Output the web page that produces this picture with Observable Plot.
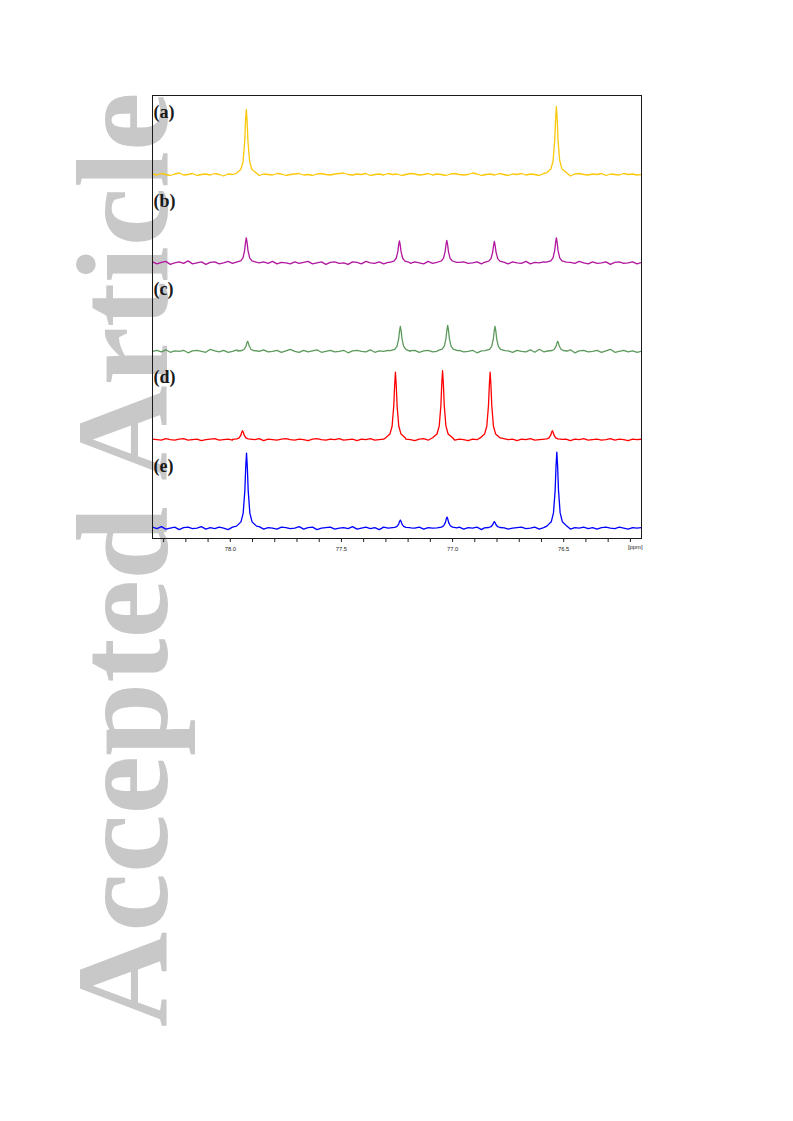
<!DOCTYPE html>
<html>
<head>
<meta charset="utf-8">
<script src="https://cdn.jsdelivr.net/npm/d3@7"></script>
<script src="https://cdn.jsdelivr.net/npm/@observablehq/plot@0.6"></script>
<style>
  body { margin: 0; background: white; }
  #wm { position: absolute; left: 0; top: 0; z-index: 0; }
  #chart { position: absolute; left: 0; top: 0; z-index: 1; }
</style>
</head>
<body>
<div id="wm">
  <svg width="793" height="1121" xmlns="http://www.w3.org/2000/svg">
    <text transform="translate(167,1027) rotate(-90)" font-family="Liberation Serif, Times New Roman, serif" font-weight="bold" font-size="132" fill="#c8c8c8">Accepted Article</text>
  </svg>
</div>
<div id="chart"></div>
<script>
// ---- data ----
const traceNames = ["(a)", "(b)", "(c)", "(d)", "(e)"];
const traceColors = ["#fcc80a", "#b0179e", "#5c9a5c", "#ff0000", "#0000ff"];
const majorTicks = [78.0, 77.5, 77.0, 76.5];
const minorTicks = [78.3, 78.2, 78.1, 77.9, 77.8, 77.7, 77.6, 77.4, 77.3, 77.2, 77.1, 76.9, 76.8, 76.7, 76.6, 76.4, 76.3, 76.2];
const axisUnit = "[ppm]";

// baseline noise, sampled every 0.02 ppm from 78.35 ppm downwards
const aNoise = [0.5,-0.5,1,0,-1,0.5,1.5,-0.5,0,1, -1,0,0.5,-0.5,1,0,-1.5,0.5,0,1, -0.5,0.5,1.5,0,-1,0.5,0,-0.5,1,0.5, -1,0,0.5,1,-0.5,0,-1,0.5,1,0, -0.5,0.5,1,1.5,0,-0.5,0.5,0,1,-1, 0,0.5,-0.5,1,0,0.5,-1,0,1,0.5, -0.5,0,1,-0.5,0.5,0,-1,0.5,1,0, -0.5,0,1.5,0.5,-1,0,0.5,-0.5,1,0, -1,0.5,0,1,-0.5,0.5,0,-1,1,0, 0.5,-0.5,1,0,-1.5,0.5,1,0,-0.5,0.5, 0,1,-1,0.5,0,-0.5,1,0,0.5,-0.5, 0];
const bNoise = [1,-1,0.5,1.5,-1.5,0,1,-0.5,2,-1, 0,1,-1.5,0.5,1,-1,0,1.5,-0.5,0, -1,1,0.5,-1.5,0,1,-0.5,1.5,-1,0.5, 0,-1,1,-0.5,0.5,1.5,-1,0,1,-1.5, 0.5,1,-0.5,0,-1.5,1,0.5,-1,1.5,0, -0.5,1,-1,0.5,0,-2,1,0.5,-0.5,1, 0,-1,1.5,-0.5,0.5,-1,1,0,-1.5,0.5, 1,-0.5,0,1,-1,0.5,1.5,-1,0,0.5, -1,1,0,-0.5,1.5,-1,0.5,0,1,-1.5, 0.5,0,1,-1,0.5,-0.5,1.5,0,-1,1, -0.5,0,1,-1.5,0.5,1,-0.5,0,1,-1, 0.5];
const cNoise = [0,1,-0.5,1.5,-1,0.5,0,1,-1.5,0.5, 1,0,-1,2,0.5,-0.5,1,-1,0,1.5, -0.5,0.5,1,-1,0,1.5,-0.5,0,1,-1, 0.5,2,0,-1,1,-0.5,0.5,1.5,-1,0, 1,-0.5,0,1,-1.5,0.5,1,0,-0.5,1.5, -1,0.5,0,1,-1,0.5,2,-0.5,0,1, -1,0.5,1,-0.5,0,1.5,-1,0.5,0,1, -0.5,0,1,-1.5,0.5,1,0,-1,1.5,0, 0.5,-1,1,0,-0.5,1.5,-1,2,-0.5,0, 1,-1,0.5,0,1.5,-1.5,0.5,1,-0.5,0, 1,-1,0.5,2,-1,0,1,-0.5,0.5,-1, 0];
const dNoise = [0.5,0,-0.5,1,0,-0.5,0.5,1,-0.5,0, 0.5,-1,0,0.5,1,-0.5,0,0.5,-0.5,1, 0,-0.5,0.5,0,1,-1,0.5,0,-0.5,0.5, 1,0,-0.5,0.5,0,-1,0.5,1,0,-0.5, 0.5,0,1,-0.5,0,0.5,-1,0.5,0,1, -0.5,0,0.5,-0.5,1,0,-0.5,0.5,0,-1, 0.5,1,-0.5,0,0.5,-0.5,1,0,-0.5,0.5, 0,-1,0.5,0,1,-0.5,0.5,0,-0.5,1, 0,0.5,-1,0.5,0,1,-0.5,0,0.5,-0.5, 1,0,-0.5,0.5,-1,0.5,0,1,-0.5,0, 0.5,-0.5,0,1,-0.5,0.5,0,-1,0.5,0, 0.5];
const eNoise = [1,-0.5,1.5,-1,0,1,-1.5,0.5,1,-0.5, 0,1.5,-1,0.5,-0.5,1,0,-1.5,1,0.5, -1,0,1,-0.5,1.5,-1,0.5,0,-1,1, 0.5,-0.5,0,1.5,-1,0.5,1,-1.5,0,0.5, 1,-1,0,0.5,-0.5,1.5,-1,0,1,-0.5, 0.5,-1.5,1,0,-0.5,1,0.5,-2.5,0.5,0, 1,-1,0.5,0,-0.5,1.5,-1,0.5,0,1, -1,0.5,0,1,-1.5,0.5,1,-0.5,0,1.5, -1,0,0.5,1,-0.5,0,1,-1,0.5,0, 1.5,-0.5,0,1,-1,0.5,0,1,-0.5,0.5, -1,0.5,1,0,-0.5,1,0,-1,0.5,0, 0.5];

// peak profiles: [centre ppm, intensities at peakOffsets]
const peakOffsets = [-0.045, -0.025, -0.015, -0.0075, -0.0035, 0, 0.0035, 0.0075, 0.015, 0.025, 0.045];
const aPeaks = [
  [77.928, 1.5, 5, 13, 33, 54, 65, 53, 32, 12, 5, 1.2],
  [76.533, 2, 5.6, 14, 34, 56, 68, 55, 34, 13, 5.5, 1.6]
];
const bPeaks = [
  [77.928, 0.7, 2, 5, 12.5, 20.5, 25, 20.5, 12.5, 5, 2, 0.7],
  [77.239, 0.6, 1.8, 4.4, 11, 18, 22, 18, 11, 4.4, 1.8, 0.6],
  [77.026, 0.6, 1.9, 4.5, 11.2, 18.5, 22.5, 18.4, 11.2, 4.5, 1.9, 0.6],
  [76.812, 0.6, 1.8, 4.3, 10.8, 17.6, 21.5, 17.6, 10.8, 4.3, 1.8, 0.6],
  [76.533, 0.7, 2, 5, 12.5, 20.5, 25, 20.5, 12.5, 5, 2, 0.7]
];
const cPeaks = [
  [77.922, 0.3, 0.8, 2, 5, 8.2, 10, 8.2, 5, 2, 0.8, 0.3],
  [77.235, 0.7, 2, 5, 12.5, 20.5, 25, 20.5, 12.5, 5, 2, 0.7],
  [77.022, 0.7, 2.2, 5.2, 13, 21.3, 26, 21.3, 13, 5.2, 2.2, 0.7],
  [76.809, 0.7, 2, 5, 12.5, 20.5, 25, 20.5, 12.5, 5, 2, 0.7],
  [76.527, 0.3, 0.8, 2, 5, 8.2, 10, 8.2, 5, 2, 0.8, 0.3]
];
const dPeaks = [
  [77.945, 0.3, 0.8, 1.8, 4.5, 7.4, 9, 7.4, 4.5, 1.8, 0.8, 0.3],
  [77.257, 1.8, 5.6, 13.5, 34, 55, 67.5, 55, 34, 13.5, 5.6, 1.8],
  [77.045, 1.9, 5.7, 13.8, 34.5, 56.5, 69, 56.5, 34.5, 13.8, 5.7, 1.9],
  [76.831, 1.8, 5.6, 13.5, 34, 55, 67.5, 55, 34, 13.5, 5.6, 1.8],
  [76.551, 0.3, 0.8, 1.8, 4.5, 7.4, 9, 7.4, 4.5, 1.8, 0.8, 0.3]
];
const ePeaks = [
  [77.927, 2, 6.2, 15, 37.5, 61.5, 75, 61.5, 37.5, 15, 6.2, 2],
  [77.235, 0.3, 0.8, 1.8, 4, 6.6, 8, 6.6, 4, 1.8, 0.8, 0.3],
  [77.025, 0.3, 1, 2.4, 5.5, 9, 11, 9, 5.5, 2.4, 1, 0.3],
  [76.812, 0.2, 0.6, 1.4, 3.3, 5.3, 6.5, 5.3, 3.3, 1.4, 0.6, 0.2],
  [76.531, 2, 6.3, 15.2, 38, 62.3, 76, 62.3, 38, 15.2, 6.3, 2]
];

// ---- assembly ----
const SPACING = 88.4;   // vertical stacking offset between spectra
const noises = [aNoise, bNoise, cNoise, dNoise, eNoise];
const peaksAll = [aPeaks, bPeaks, cPeaks, dPeaks, ePeaks];

const rows = [];
traceNames.forEach((name, k) => {
  const pts = [];
  noises[k].forEach((v, i) => {
    const x = 78.35 - 0.02 * i;
    if (!peaksAll[k].some(p => Math.abs(x - p[0]) < 0.045)) pts.push({x, v});
  });
  peaksAll[k].forEach(p => peakOffsets.forEach((o, j) => pts.push({x: p[0] + o, v: p[j + 1]})));
  pts.sort((a, b) => b.x - a.x);
  pts.forEach(d => rows.push({trace: name, x: d.x, y: d.v - k * SPACING}));
});

const labelRows = traceNames.map((name, k) => ({name, y: 62 - k * SPACING}));

const chart = Plot.plot({
  width: 793,
  height: 565,
  marginLeft: 152,
  marginRight: 152,
  marginTop: 95,
  marginBottom: 27,
  style: {background: "transparent", overflow: "visible", fontFamily: "Liberation Sans, Arial, sans-serif"},
  x: {domain: [78.35, 76.15], axis: null, label: null},
  y: {domain: [-364, 79], axis: null, label: null},
  color: {domain: traceNames, range: traceColors},
  marks: [
    Plot.line(rows, {x: "x", y: "y", z: "trace", stroke: "trace", strokeWidth: 1.3, clip: true}),
    Plot.frame({stroke: "#1a1a1a", strokeWidth: 1}),
    Plot.axisX({ticks: minorTicks, tickFormat: () => "", tickSize: 4, stroke: "#222", anchor: "bottom", label: null}),
    Plot.axisX({ticks: majorTicks, tickFormat: d3.format(".1f"), tickSize: 4, tickPadding: 4.5, stroke: "#222", fill: "#222", fontSize: 5.8, anchor: "bottom", label: null}),
    Plot.text([axisUnit], {frameAnchor: "bottom-right", text: d => d, textAnchor: "end", dx: 1, dy: 10.5, fontSize: 5.8, fill: "#222"}),
    Plot.text(labelRows, {y: "y", text: "name", frameAnchor: "left", textAnchor: "start", dx: 1, fontSize: 18, fontWeight: "bold", fontFamily: "Liberation Serif, Times New Roman, serif", fill: "#1a1a1a"})
  ]
});
document.getElementById("chart").appendChild(chart);
</script>
</body>
</html>
